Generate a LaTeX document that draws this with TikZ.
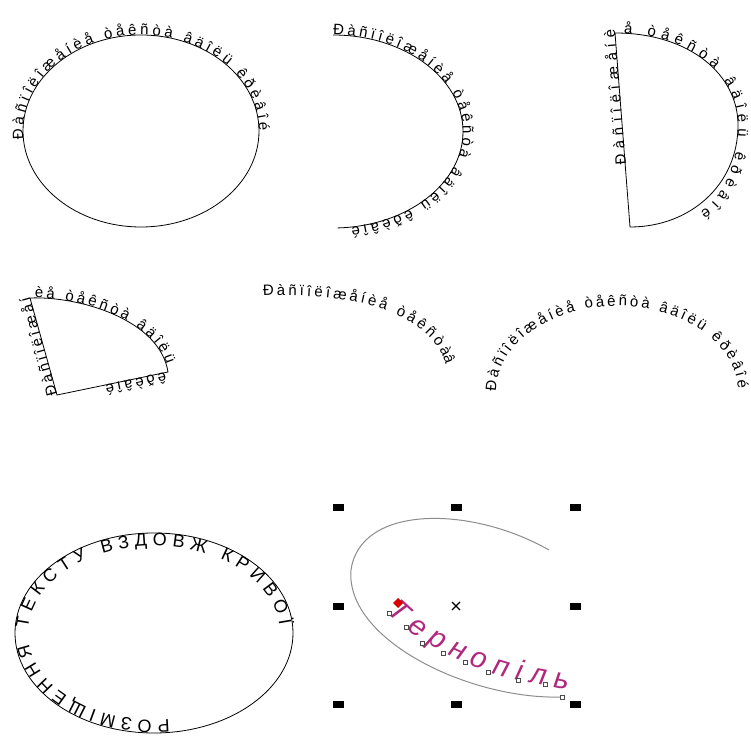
\documentclass[tikz,border=0pt]{standalone}
\usepackage{fontspec}
\setmainfont{Liberation Sans}
\usepackage{xcolor}
\usepackage{tikz}
\usetikzlibrary{decorations.text}

\definecolor{city}{RGB}{175,40,125}
\newcommand\curvefont{\fontsize{15}{17}\selectfont}
\newcommand\ringfont{\fontsize{18}{20}\selectfont}
\newcommand\cityfont{\itshape\fontsize{29}{31}\selectfont}

\begin{document}
\begin{tikzpicture}[
  x=1pt, y=1pt,
  outline/.style={draw=black, line width=0.8pt},
  along/.style={decorate, decoration={text along path, text align=fit to path,
                text={|\curvefont|#1}}},
  ring/.style={decorate, decoration={text along path, text align=fit to path,
               text={|\ringfont|#1}}},
  guide/.style={draw=black!45, line width=1pt},
  handle/.style={fill=black, inner sep=0pt, minimum width=11pt, minimum height=7pt},
  knot/.style={draw=black!70, fill=white, line width=0.5pt, inner sep=0pt,
               minimum size=4pt},
]
\useasboundingbox (0,0) rectangle (751,736);

\coordinate (e1) at (141,605);
\draw[outline] (e1) ellipse (118 and 96);
\path (e1) ++(185:118 and 96) coordinate (e1s);
\path[along={Ðàñïîëîæåíèå òåêñòà âäîëü êðèâîé}] (e1s) arc (185:0:118 and 96);

\coordinate (e2) at (333,701);
\draw[outline] (e2) arc (90:-88:130 and 96.5);
\path[along={Ðàñïîëîæåíèå òåêñòà âäîëü êðèâîé}] (e2) arc (90:-82:130 and 96.5);

\coordinate (d1) at (630,509);
\coordinate (d2) at (615,703);
\coordinate (d3) at (738,611);
\draw[outline] (d1) -- (d2) .. controls (690,703) and (738,661) .. (d3)
  .. controls (738,551) and (690,509) .. cycle;
\path[along={Ðàñïîëîæåíèå òåêñòà âäîëü êðèâîé}] (626,571) -- (d2)
  .. controls (690,703) and (738,661) .. (d3) .. controls (738,561) and (715,531) .. (700,524);

\coordinate (s0) at (57,341);
\coordinate (s1) at (30,438);
\coordinate (s2) at (168,364);
\draw[outline] (s0) -- (s1) .. controls (80,440) and (160,416) .. (s2) -- cycle;
\path[along={Ðàñïîëîæåíèå òåêñòà âäîëü êðèâîé}] (s0) -- (s1)
  .. controls (80,440) and (160,416) .. (s2) -- (105,351);

\coordinate (b0) at (263,440);
\coordinate (b1) at (443,379);
\path[along={Ðàñïîëîæåíèå òåêñòà}] (b0) .. controls (360,444) and (425,421) .. (b1);
\path[along={âäîëü}] (b1) -- (445,373);

\coordinate (a6) at (617,344);
\path (a6) ++(180:121 and 86) coordinate (a6s);
\path[along={Ðàñïîëîæåíèå òåêñòà âäîëü êðèâîé}] (a6s) arc (180:2:121 and 86);

\coordinate (e7) at (154,103);
\draw[outline] (e7) ellipse (139 and 100);
\path (e7) ++(-83:126 and 87) coordinate (e7s);
\path[ring={РОЗМІЩЕННЯ ТЕКСТУ ВЗДОВЖ КРИВОЇ}] (e7s) arc (-83:-355:126 and 87);

\foreach \hx/\hy [count=\k] in {338/228, 456/228, 575/228, 338/130, 575/130,
                                338/32, 456/32, 575/32}
  \node[handle] (h\k) at (\hx,\hy) {};
\coordinate (mid) at (456,130);
\draw[line width=1.3pt] (mid) +(-4,-4) -- +(4,4) (mid) +(-4,4) -- +(4,-4);

\coordinate (g0) at (549,186);
\coordinate (g1) at (351,166);
\coordinate (g2) at (562,39);
\draw[guide] (g0) .. controls (470,231) and (360,231) .. (g1)
  .. controls (345,96) and (470,36) .. (g2);
\path[decorate, decoration={text along path, text align=fit to path, text color=city,
      text={|\cityfont|Тернопіль}}] (387,124) .. controls (430,82) and (490,56) .. (568,47);

\coordinate (anchor) at (398,133);
\fill[red!85!black] (anchor) +(0,5) -- +(5,0) -- +(0,-5) -- +(-5,0) -- cycle;
\foreach \kx/\ky [count=\k] in {389/123, 406/109, 422/93, 443/83, 465/74, 488/64,
                                518/56, 545/52, 562/39}
  \node[knot] (k\k) at (\kx,\ky) {};
\end{tikzpicture}
\end{document}
